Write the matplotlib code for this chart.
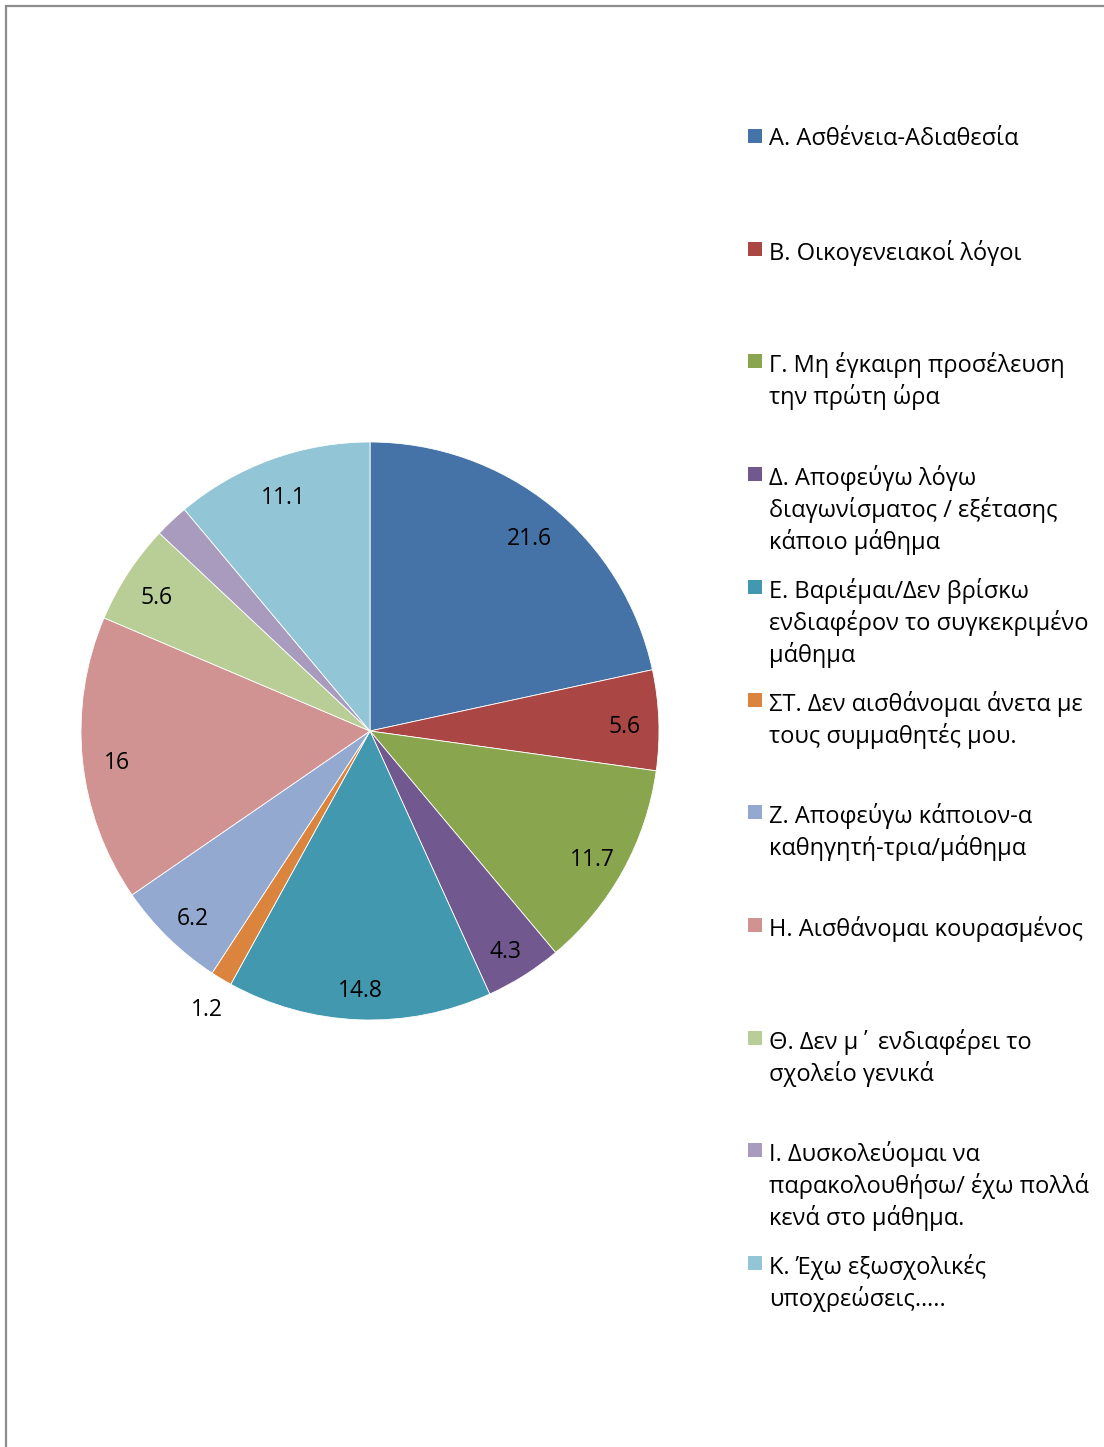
import numpy as np
import matplotlib.pyplot as plt
from matplotlib.patches import Rectangle

plt.rcParams['font.family'] = ['Open Sans', 'DejaVu Sans']

labels = [
    "Α. Ασθένεια-Αδιαθεσία",
    "Β. Οικογενειακοί λόγοι",
    "Γ. Μη έγκαιρη προσέλευση\nτην πρώτη ώρα",
    "Δ. Αποφεύγω λόγω\nδιαγωνίσματος / εξέτασης\nκάποιο μάθημα",
    "Ε. Βαριέμαι/Δεν βρίσκω\nενδιαφέρον το συγκεκριμένο\nμάθημα",
    "ΣΤ. Δεν αισθάνομαι άνετα με\nτους συμμαθητές μου.",
    "Ζ. Αποφεύγω κάποιον-α\nκαθηγητή-τρια/μάθημα",
    "Η. Αισθάνομαι κουρασμένος",
    "Θ. Δεν μ΄ ενδιαφέρει το\nσχολείο γενικά",
    "Ι. Δυσκολεύομαι να\nπαρακολουθήσω/ έχω πολλά\nκενά στο μάθημα.",
    "Κ. Έχω εξωσχολικές\nυποχρεώσεις…..",
]
values = [21.6, 5.6, 11.7, 4.3, 14.8, 1.2, 6.2, 16, 5.6, 1.9, 11.1]
value_text = ["21.6", "5.6", "11.7", "4.3", "14.8", "1.2", "6.2", "16", "5.6", "", "11.1"]
colors = ["#4572A7", "#AA4643", "#89A54E", "#71588F", "#4198AF", "#DB843D",
          "#93A9CF", "#D19392", "#B9CD96", "#A99BBD", "#92C5D5"]

W, H = 1104, 1447
fig = plt.figure(figsize=(W / 100, H / 100), dpi=100)

# grey frame (only top and left edges visible)
fig.patches.append(Rectangle((6 / W, -0.1), 1.2, 1 - 6 / H + 0.1, transform=fig.transFigure,
                             fill=False, edgecolor="#8c8c8c", linewidth=1.6))

cx, cy, r = 370, 731, 289
ax = fig.add_axes([(cx - r) / W, (H - cy - r) / H, 2 * r / W, 2 * r / H])
wedges, _ = ax.pie(values, colors=colors, startangle=90, counterclock=False,
                   radius=1, wedgeprops=dict(edgecolor="white", linewidth=0.6))
ax.set_xlim(-1, 1)
ax.set_ylim(-1, 1)
ax.axis("off")

for w, t, v in zip(wedges, value_text, values):
    if not t:
        continue
    ang = np.deg2rad((w.theta1 + w.theta2) / 2)
    d = 1.1 if v < 2 else 0.88
    ax.annotate(t, (d * np.cos(ang), d * np.sin(ang)), xytext=(0, -3),
                textcoords="offset pixels", ha="center", va="center_baseline",
                fontsize=16.5, color="black")

# legend
y0, step = 136, 112.7
for i, (lab, c) in enumerate(zip(labels, colors)):
    y = y0 + i * step
    fig.patches.append(Rectangle((748 / W, 1 - (y + 7) / H), 14 / W, 14 / H,
                                 transform=fig.transFigure, facecolor=c, edgecolor="none"))
    fig.text(769 / W, 1 - (y - 9) / H, lab, ha="left", va="top", fontsize=17,
             linespacing=1.3, color="black")

fig.savefig("out.png", dpi=100)
